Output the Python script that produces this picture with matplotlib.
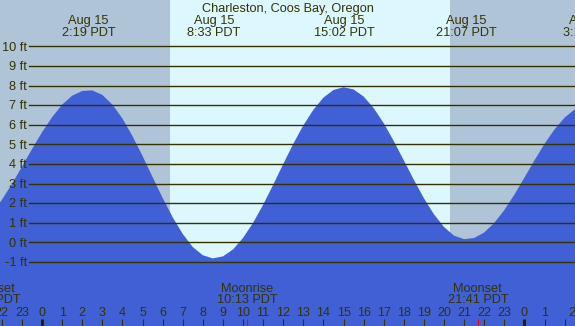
import numpy as np
import matplotlib
matplotlib.use("Agg")
import matplotlib.pyplot as plt

plt.rcParams['font.family'] = ['Liberation Sans', 'DejaVu Sans']

# ---- data ----
title = "Charleston, Coos Bay, Oregon"
# tide height (ft) sampled every half hour, hours from midnight Aug 15 (PDT)
sample_hours = np.arange(-2.5, 27.01, 0.5)
tide_ft = [1.47, 2.16, 2.97, 3.85, 4.75, 5.61, 6.38, 7.02, 7.48, 7.72, 7.75,
           7.52, 7.03, 6.32, 5.42, 4.41, 3.33, 2.27, 1.28, 0.43, -0.24, -0.66, -0.82,
           -0.72, -0.37, 0.22, 0.99, 1.91, 2.93, 3.99, 5.02, 5.96, 6.76, 7.38, 7.77, 7.91,
           7.80, 7.44, 6.85, 6.08, 5.17, 4.18, 3.19, 2.25, 1.43, 0.78, 0.34, 0.16,
           0.22, 0.50, 0.99, 1.64, 2.43, 3.30, 4.18, 5.02, 5.76, 6.36, 6.78, 6.98]

# tide extremes labels (hour, date, time text)
extreme_hours = [2.317, 8.55, 15.033, 21.117, 27.23]
extreme_dates = ["Aug 15", "Aug 15", "Aug 15", "Aug 15", "Aug 16"]
extreme_times = ["2:19 PDT", "8:33 PDT", "15:02 PDT", "21:07 PDT", "3:14 PDT"]

sunrise_h = 6.37
sunset_h = 20.3

moon_hours = [-2.55, 10.217, 21.683]
moon_names = ["Moonset", "Moonrise", "Moonset"]
moon_times = ["21:23 PDT", "10:13 PDT", "21:41 PDT"]

ft_levels = [-1, 0, 1, 2, 3, 4, 5, 6, 7, 8, 9, 10]
tick_hours = list(range(-2, 27))

# ---- style ----
W, H = 575, 326
NIGHT = "#b0c4d8"
DAY = "#ddf7ff"
WATER = "#4160d6"
INK = "#333300"
FS = 9.2

fig = plt.figure(figsize=(W / 100, H / 100), dpi=100)
ax = fig.add_axes([0, 0, 1, 1])
ax.set_axis_off()

PX_PER_H = 20.1
PX_PER_FT = 19.6
X_MID = 42.0
Y_ZERO = 242.3
x0 = -X_MID / PX_PER_H
x1 = (W - X_MID) / PX_PER_H
y_bottom = (Y_ZERO - H) / PX_PER_FT
y_top = Y_ZERO / PX_PER_FT
ax.set_xlim(x0, x1)
ax.set_ylim(y_bottom, y_top)

def yf(py):
    return 1 - py / H

ax.axvspan(x0, sunrise_h, color=NIGHT, lw=0, zorder=0)
ax.axvspan(sunrise_h, sunset_h, color=DAY, lw=0, zorder=0)
ax.axvspan(sunset_h, x1, color=NIGHT, lw=0, zorder=0)

ax.fill_between(sample_hours, tide_ft, y_bottom - 1, color=WATER, lw=0, zorder=1)

xt = ax.get_yaxis_transform()  # x axes, y data
for lv in ft_levels:
    ax.axhline(lv, xmin=29.3 / W, xmax=1, color=INK, lw=1.0, zorder=2)
    ax.text(27 / W, lv - 4.3 / PX_PER_FT, f"{lv} ft", transform=xt, ha="right",
            va="baseline", fontsize=FS, color=INK, zorder=3)

tx = ax.get_xaxis_transform()  # x data, y axes
ax.text(0.5, yf(11.7), title, transform=ax.transAxes, ha="center", va="baseline",
        fontsize=FS, color=INK, zorder=3)

for h, d, t in zip(extreme_hours, extreme_dates, extreme_times):
    ax.text(h, yf(24), d, transform=tx, ha="center", va="baseline",
            fontsize=FS, color=INK, zorder=3)
    ax.text(h, yf(36), t, transform=tx, ha="center", va="baseline",
            fontsize=FS, color=INK, zorder=3)

for h, n, t in zip(moon_hours, moon_names, moon_times):
    ax.text(h, yf(291.7), n, transform=tx, ha="center", va="baseline",
            fontsize=FS, color=INK, zorder=3)
    ax.text(h, yf(303.3), t, transform=tx, ha="center", va="baseline",
            fontsize=FS, color=INK, zorder=3)
    ax.vlines(h, 0, 7 / H, transform=tx, color="red", lw=0.8, zorder=4)

for i, h in enumerate(tick_hours):
    is_mid = (h % 24 == 0)
    ax.vlines(h, 0, 7 / H, transform=tx, color="#222200" if is_mid else INK,
              lw=2.2 if is_mid else 0.8, zorder=3)
    if i == len(tick_hours) - 1:
        ax.text(1.0, yf(315.7), str(h % 24), transform=ax.transAxes, ha="right",
                va="baseline", fontsize=9, color=INK, zorder=3)
    else:
        ax.text(h, yf(315.7), str(h % 24), transform=tx, ha="center", va="baseline",
                fontsize=9, color=INK, zorder=3)

fig.savefig("out.png", dpi=100)
